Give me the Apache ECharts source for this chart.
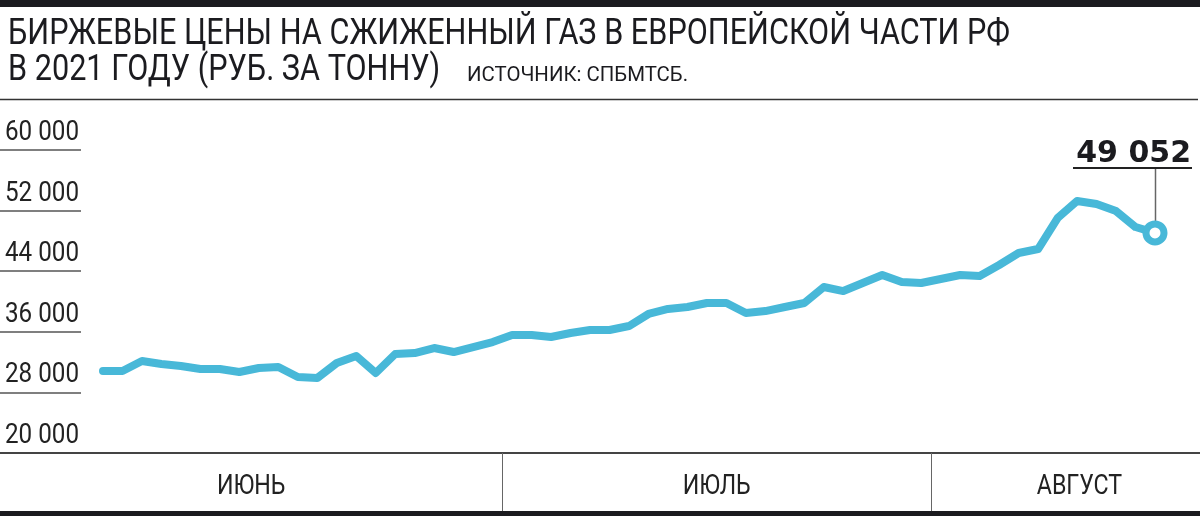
<!DOCTYPE html>
<html><head><meta charset="utf-8">
<script src="https://cdn.jsdelivr.net/npm/echarts@6/dist/echarts.min.js"></script>
<style>html,body{margin:0;padding:0;background:#fff}#c{width:1200px;height:516px}</style>
</head><body><div id="c"></div>
<script>
// ---- data ----
const dates = [
  '2021-06-01','2021-06-02','2021-06-03','2021-06-04','2021-06-07','2021-06-08','2021-06-09','2021-06-10','2021-06-11',
  '2021-06-15','2021-06-16','2021-06-17','2021-06-18','2021-06-21','2021-06-22','2021-06-23','2021-06-24','2021-06-25',
  '2021-06-28','2021-06-29','2021-06-30',
  '2021-07-01','2021-07-02','2021-07-05','2021-07-06','2021-07-07','2021-07-08','2021-07-09','2021-07-12','2021-07-13',
  '2021-07-14','2021-07-15','2021-07-16','2021-07-19','2021-07-20','2021-07-21','2021-07-22','2021-07-23','2021-07-26',
  '2021-07-27','2021-07-28','2021-07-29','2021-07-30',
  '2021-08-02','2021-08-03','2021-08-04','2021-08-05','2021-08-06','2021-08-09','2021-08-10','2021-08-11','2021-08-12',
  '2021-08-13','2021-08-16','2021-08-17'
];
const prices = [
  30820, 30820, 32140, 31750, 31480, 31090, 31090, 30690, 31220, 31350,
  30030, 29900, 31880, 32800, 30560, 33070, 33200, 33860, 33330, 33990,
  34650, 35580, 35580, 35310, 35840, 36240, 36240, 36760, 38350, 39010,
  39270, 39800, 39800, 38480, 38740, 39270, 39800, 41910, 41380, 42440,
  43500, 42570, 42440, 42970, 43500, 43360, 44820, 46400, 46930, 51020,
  53260, 52870, 51940, 49830, 49052
];
const yTickLabels = ['20 000', '28 000', '36 000', '44 000', '52 000', '60 000'];
const yMin = 20000, yMax = 60000;
const monthKeys = ['2021-06', '2021-07', '2021-08'];
const monthNames = ['ИЮНЬ', 'ИЮЛЬ', 'АВГУСТ'];
const titleLine1 = 'БИРЖЕВЫЕ ЦЕНЫ НА СЖИЖЕННЫЙ ГАЗ В ЕВРОПЕЙСКОЙ ЧАСТИ РФ';
const titleLine2 = 'В 2021 ГОДУ (РУБ. ЗА ТОННУ)';
const sourceText = 'ИСТОЧНИК: СПБМТСБ.';

// ---- style ----
const LINE_COLOR = '#48b8d8';
const INK = '#1b1b1f';
const COND_FONT = 'Roboto';

const chart = echarts.init(document.getElementById('c'), null, {renderer: 'canvas'});
const W = 1200, H = 516;

const fmt = v => String(v).replace(/\B(?=(\d{3})+(?!\d))/g, ' ');
const lastIdx = prices.length - 1;

chart.setOption({
  animation: false,
  backgroundColor: '#fff',
  grid: [
    {left: 103, right: 45, top: 150, height: 303},
    {left: 0, width: 81, top: 150, height: 303}
  ],
  xAxis: [
    {type: 'category', data: dates, boundaryGap: false, show: false, gridIndex: 0},
    {type: 'value', show: false, gridIndex: 1}
  ],
  yAxis: [
    {type: 'value', min: yMin, max: yMax, show: false, gridIndex: 0},
    {type: 'category', data: yTickLabels, boundaryGap: false, gridIndex: 1, position: 'left',
     axisLine: {show: false}, axisTick: {show: false}, axisLabel: {show: false},
     splitLine: {show: true, interval: 0, lineStyle: {color: '#555', width: 1.5}}}
  ],
  series: [
    {type: 'line', data: prices, xAxisIndex: 0, yAxisIndex: 0, showSymbol: false, symbol: 'none',
     lineStyle: {color: LINE_COLOR, width: 8, cap: 'round', join: 'round'}, z: 3},
    {type: 'scatter', xAxisIndex: 0, yAxisIndex: 0,
     data: prices.map((v, i) => i === lastIdx ? v : '-'),
     symbol: 'circle', symbolSize: 18,
     itemStyle: {color: '#fff', borderColor: LINE_COLOR, borderWidth: 7, opacity: 1}, z: 4}
  ]
});

// measure text for condensed fitting
const ctx = document.createElement('canvas').getContext('2d');
function measure(text, font) { ctx.font = font; return ctx.measureText(text).width; }
const K = 1002 / measure(titleLine1, '37px ' + COND_FONT);       // title condense factor
const KS = 221 / measure(sourceText, '21px ' + COND_FONT);       // source line
const KY = 74 / measure(yTickLabels[5], '28px ' + COND_FONT);    // y labels

function ctext(id, text, x, yMid, size, opts) {
  opts = opts || {};
  return {
    type: 'text', id: id, x: x, y: yMid, scaleX: opts.scaleX || K, scaleY: 1, originX: 0, originY: 0,
    style: {text: text, font: (opts.weight || 'normal') + ' ' + size + 'px ' + (opts.family || COND_FONT),
      fill: opts.fill || INK, textAlign: opts.align || 'left', align: opts.align || 'left',
      textVerticalAlign: 'middle', verticalAlign: 'middle'},
    z: 10
  };
}

const px = i => chart.convertToPixel({xAxisIndex: 0, yAxisIndex: 0}, [i, prices[i]]);

// month boundaries from the axis
const seps = [];
for (let i = 1; i < dates.length; i++) {
  if (dates[i].slice(0, 7) !== dates[i - 1].slice(0, 7)) {
    seps.push((px(i - 1)[0] + px(i)[0]) / 2);
  }
}
const edges = [0].concat(seps).concat([W + 28]);

const g = [];
g.push({type: 'rect', id: 'topbar', shape: {x: 0, y: 0, width: W, height: 7}, style: {fill: INK}, z: 10});
g.push(ctext('t1', titleLine1, 8, 35, 37));
g.push(ctext('t2', titleLine2, 8, 71, 37));
g.push(ctext('src', sourceText, 467, 76, 21, {scaleX: KS}));
g.push({type: 'line', id: 'rule', shape: {x1: 0, y1: 99.5, x2: 1198, y2: 99.5}, style: {stroke: '#333', lineWidth: 1.5}, z: 10});
// y labels sitting on their underlines
yTickLabels.forEach((lab, j) => {
  const yy = chart.convertToPixel({yAxisIndex: 1}, lab);
  g.push(ctext('yl' + j, lab, 5, yy - 17, 28, {scaleX: KY, fill: '#222'}));
});
// bottom band
g.push({type: 'line', id: 'bandtop', shape: {x1: 0, y1: 453, x2: W, y2: 453}, style: {stroke: '#444', lineWidth: 2}, z: 10});
g.push({type: 'rect', id: 'bandbot', shape: {x: 0, y: 511, width: W, height: 5}, style: {fill: INK}, z: 10});
seps.forEach((s, j) => g.push({type: 'line', id: 'sep' + j, shape: {x1: Math.round(s) + 0.5, y1: 453, x2: Math.round(s) + 0.5, y2: 511},
  style: {stroke: '#666', lineWidth: 1}, z: 10}));
monthKeys.forEach((m, j) => {
  const cx = (edges[j] + edges[j + 1]) / 2;
  g.push(ctext('m' + j, monthNames[j], cx, 487, 28, {align: 'center', fill: '#222'}));
});
// annotation of the last value
const lp = px(lastIdx);
g.push({type: 'text', id: 'lastval', x: lp[0] + 36, y: lp[1] - 79,
  style: {text: fmt(prices[lastIdx]), font: 'bold 30px "DejaVu Sans"', fill: INK,
    textAlign: 'right', align: 'right', textVerticalAlign: 'middle', verticalAlign: 'middle'}, z: 10});
g.push({type: 'line', id: 'lastul', shape: {x1: lp[0] - 82, y1: lp[1] - 65, x2: lp[0] + 37, y2: lp[1] - 65},
  style: {stroke: '#222', lineWidth: 2}, z: 10});
g.push({type: 'line', id: 'lastlead', shape: {x1: lp[0] + 0.5, y1: lp[1] - 65, x2: lp[0] + 0.5, y2: lp[1] - 12},
  style: {stroke: '#666', lineWidth: 1.5}, z: 2});

chart.setOption({graphic: g});
</script>
</body></html>
